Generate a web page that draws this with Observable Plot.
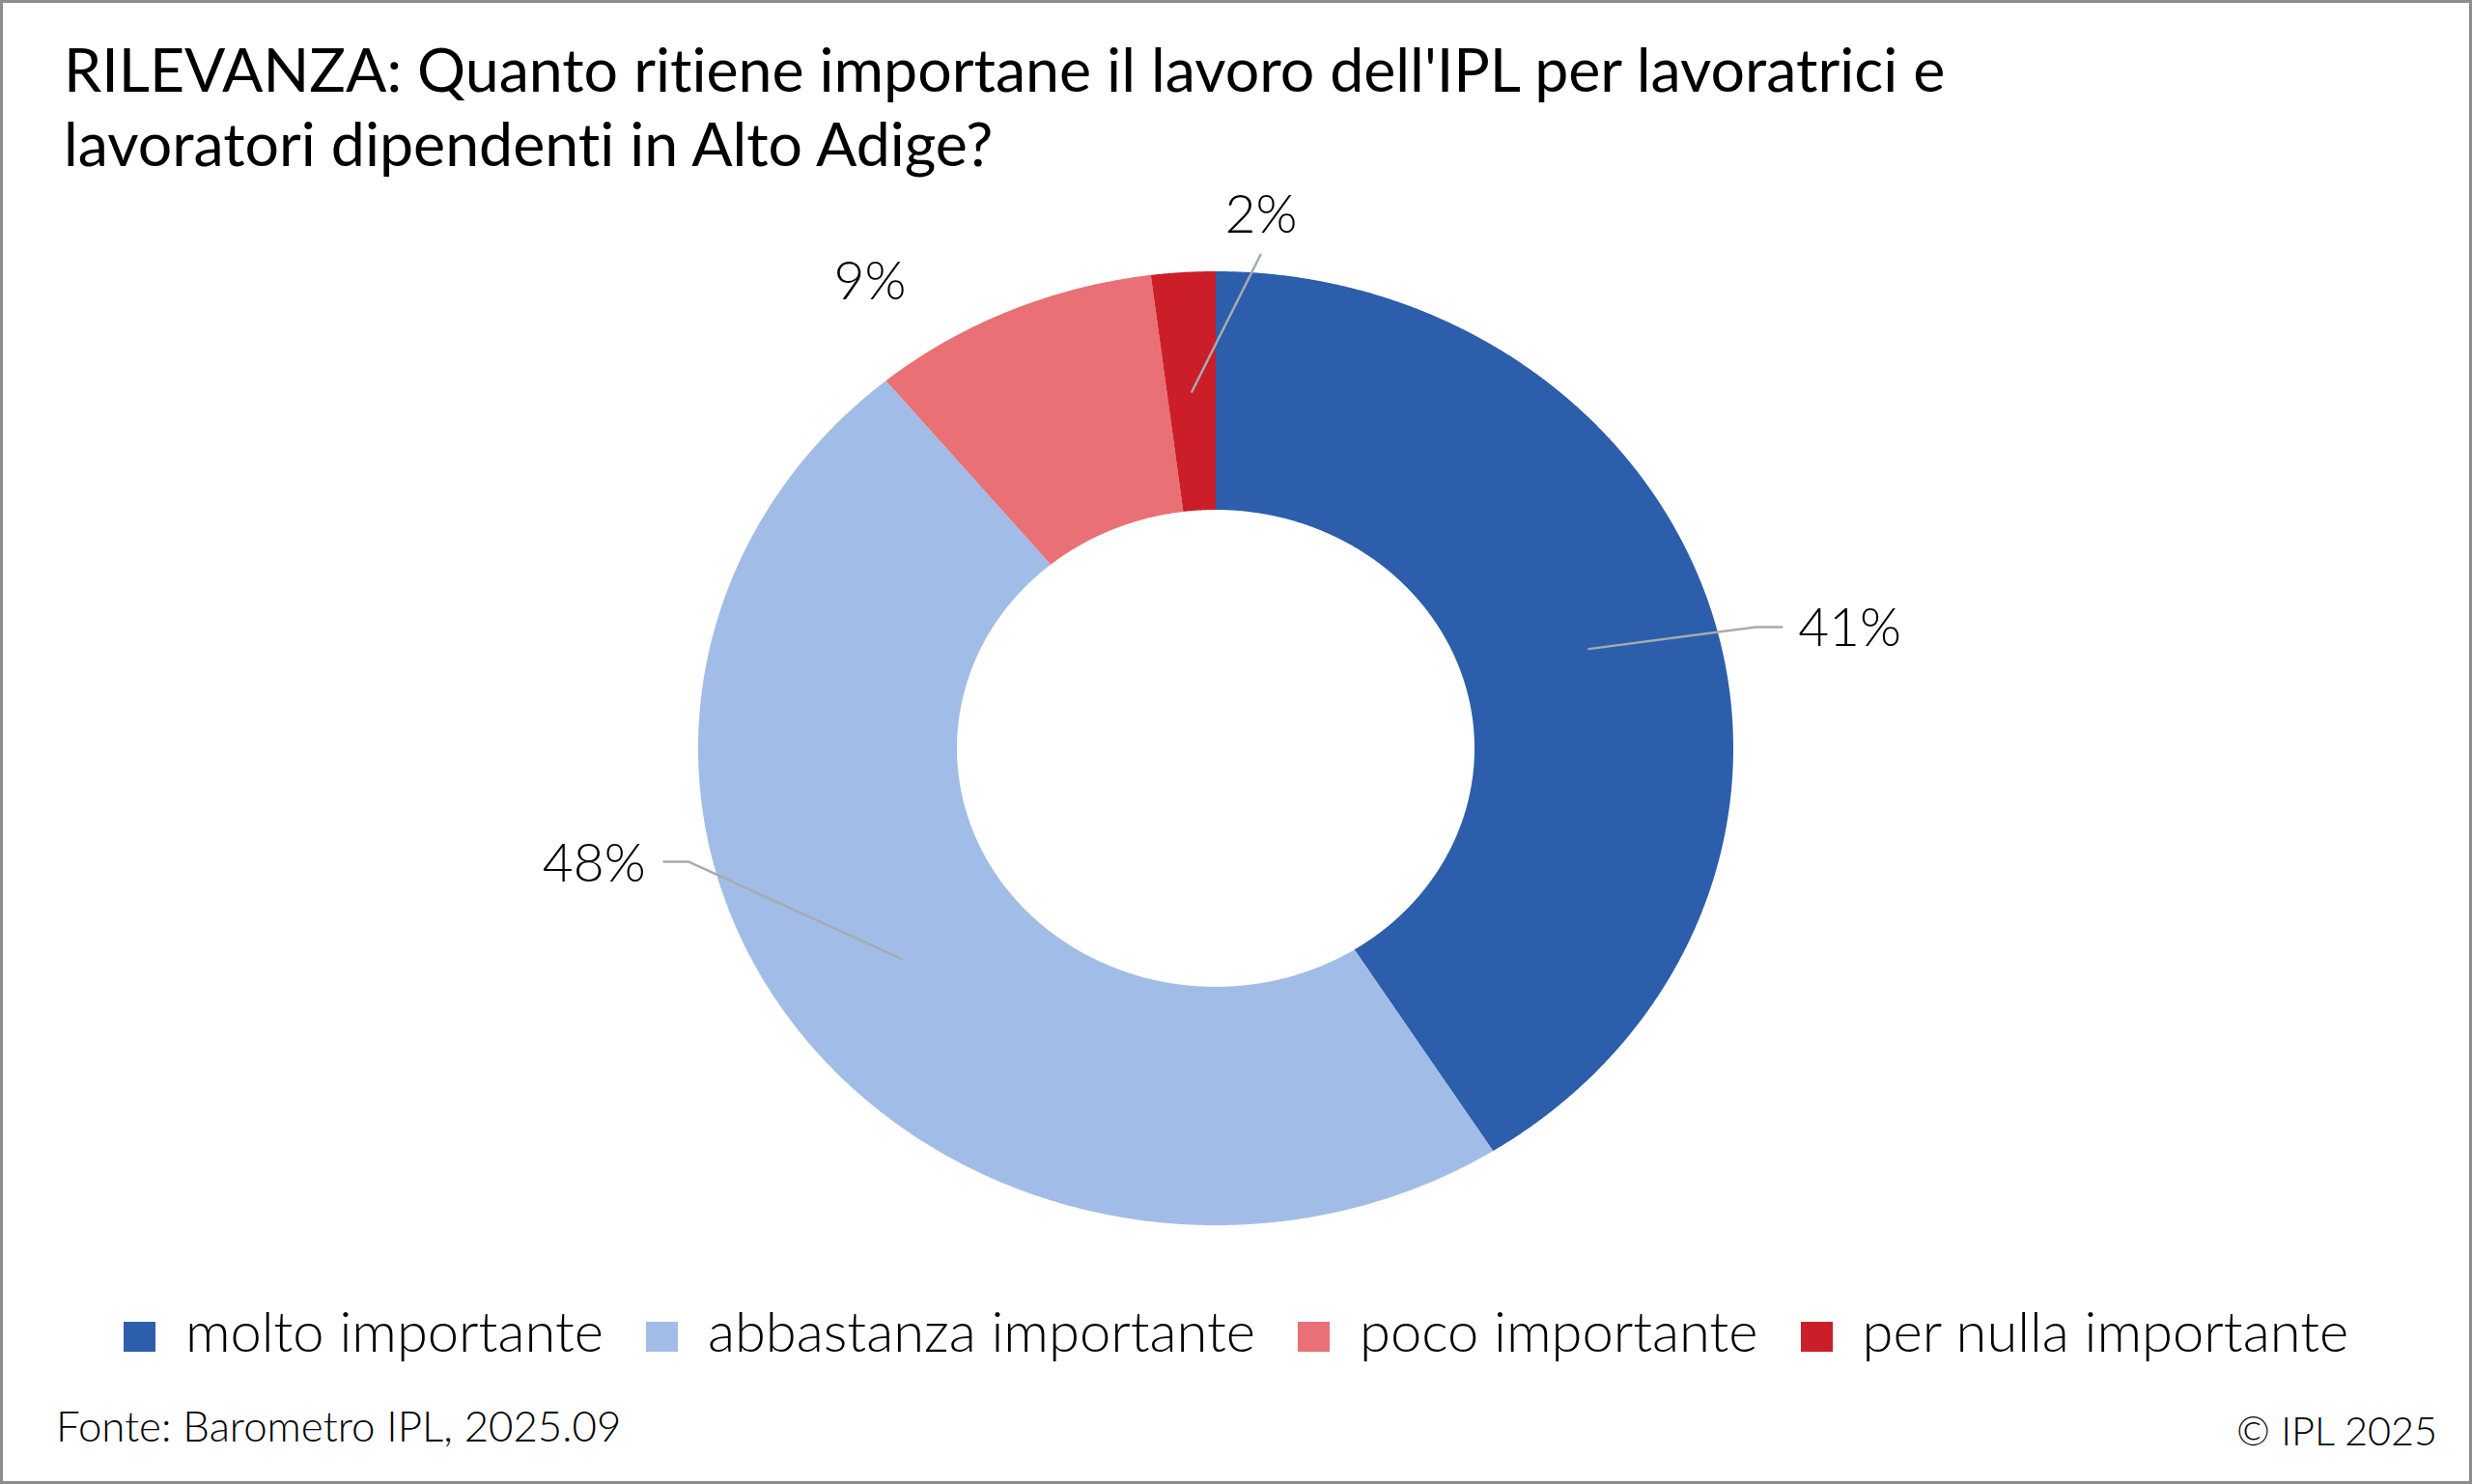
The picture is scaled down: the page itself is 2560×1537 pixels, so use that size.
<!DOCTYPE html>
<html>
<head>
<meta charset="utf-8">
<script src="https://cdn.jsdelivr.net/npm/d3@7"></script>
<script src="https://cdn.jsdelivr.net/npm/@observablehq/plot@0.6"></script>
<style>
  html, body { margin: 0; padding: 0; background: #fff; }
  #frame { position: relative; width: 2560px; height: 1537px; overflow: hidden;
           outline: 3px solid #8c8c8c; outline-offset: -3px; background: #fff; color: #000; }
  #frame, #frame * { font-feature-settings: "liga" 0, "clig" 0, "calt" 0, "dlig" 0, "rlig" 0 !important;
                     font-variant-ligatures: none !important; }
  .txt { position: absolute; white-space: nowrap; margin: 0; }
  #chart { position: absolute; left: 0; top: 200px; }
  #legend { position: absolute; left: 0; width: 2560px; display: flex; justify-content: center; white-space: nowrap; }
  .item { display: inline-block; margin: 0 22px; }
  .sw { display: inline-block; vertical-align: baseline; }
</style>
</head>
<body>
<div id="frame">
  <div id="title" class="txt"></div>
  <div id="chart"></div>
  <div id="legend"></div>
  <div id="source" class="txt"></div>
  <div id="copy" class="txt"></div>
</div>
<script>
// ---------- data ----------
const categories = ["molto importante", "abbastanza importante", "poco importante", "per nulla importante"];
const values = [41, 48, 9, 2];
const colors = ["#2c5eab", "#a1bde7", "#e97075", "#cc1e29"];
const valueLabels = ["41%", "48%", "9%", "2%"];
const titleLines = ["RILEVANZA: Quanto ritiene importane il lavoro dell'IPL per lavoratrici e",
                    "lavoratori dipendenti in Alto Adige?"];
const sourceText = "Fonte: Barometro IPL, 2025.09";
const copyText = "\u00A9 IPL 2025";

// ---------- layout (donut units: outer radius = 1) ----------
const innerRatio = 0.5;
const labelLayout = [
  { tx: 1.224,  ty: 0.251,  leader: [[1.043, 0.255], [1.093, 0.255]] },
  { tx: -1.202, ty: -0.242, leader: [[-1.019, -0.237], [-1.067, -0.237]] },
  { tx: -0.669, ty: 0.979,  leader: null },
  { tx: 0.0868, ty: 1.117,  leader: [[0.0858, 1.036]] }
];
const FAM = 'Lato, "Noto Sans", sans-serif';

// ---------- text metrics helpers ----------
const ctx = document.createElement("canvas").getContext("2d");
function ink(text, weight, size) {
  ctx.font = `${weight} ${size}px ${FAM}`;
  const m = ctx.measureText(text);
  return { left: m.actualBoundingBoxLeft, right: m.actualBoundingBoxRight,
           a: m.fontBoundingBoxAscent, d: m.fontBoundingBoxDescent };
}
function fit(text, weight, inkW) {
  const m = ink(text, weight, 100);
  return 100 * inkW / (m.left + m.right);
}
function setFont(el, weight, size) {
  el.style.fontFamily = FAM;
  el.style.fontWeight = weight;
  el.style.fontSize = size + "px";
}
function place(el, html, weight, size, inkLeft, baseline, lineH) {
  const m = ink(html.split("<br>")[0], weight, size);
  const lh = lineH || (m.a + m.d);
  el.innerHTML = html;
  setFont(el, weight, size);
  el.style.lineHeight = lh + "px";
  el.style.top = (baseline - ((lh - (m.a + m.d)) / 2 + m.a)) + "px";
  el.style.left = (inkLeft + m.left) + "px";
}

// title
const tSize = fit(titleLines[0], 400, 2016 - 71);
place(document.getElementById("title"), titleLines.join("<br>"), 400, tSize, 71, 95, 77);

// source
const sSize = fit(sourceText, 300, 640 - 62);
place(document.getElementById("source"), sourceText, 300, sSize, 62, 1493);

// copyright
const cSize = fit(copyText, 300, 2522 - 2318);
place(document.getElementById("copy"), copyText, 300, cSize, 2318, 1497);

// legend
const lSize = fit(categories[0], 300, 618 - 192);
{
  const m = ink(categories[0], 300, lSize);
  const lh = m.a + m.d;
  const leg = document.getElementById("legend");
  setFont(leg, 300, lSize);
  leg.style.lineHeight = lh + "px";
  leg.style.top = (1400 - m.a) + "px";
  categories.forEach((c, i) => {
    const it = document.createElement("span");
    it.className = "item";
    const sw = document.createElement("span");
    sw.className = "sw";
    sw.style.width = "33px"; sw.style.height = "31px";
    sw.style.background = colors[i];
    sw.style.marginRight = "31px";
    it.appendChild(sw);
    it.appendChild(document.createTextNode(c));
    leg.appendChild(it);
  });
}

// ---------- donut geometry from values ----------
const total = d3.sum(values);
const rad = d => d * Math.PI / 180;
let acc = 0;
const slices = categories.map((c, i) => {
  const a0 = acc / total * 360;
  acc += values[i];
  const a1 = acc / total * 360;
  return { cat: c, a0, a1, mid: (a0 + a1) / 2, label: valueLabels[i], i };
});
const ring = [];
for (const s of slices) {
  const n = Math.max(2, Math.ceil((s.a1 - s.a0) / 0.2));
  for (let k = 0; k <= n; k++) {
    const t = rad(s.a0 + (s.a1 - s.a0) * k / n);
    ring.push({ cat: s.cat, ox: Math.sin(t), oy: Math.cos(t),
                ix: innerRatio * Math.sin(t), iy: innerRatio * Math.cos(t) });
  }
}
const leaders = [];
const labelRows = [];
slices.forEach((s, i) => {
  const L = labelLayout[i];
  labelRows.push({ x: L.tx, y: L.ty, label: s.label });
  if (L.leader) {
    const rm = (1 + innerRatio) / 2, t = rad(s.mid);
    leaders.push({ id: i, x: rm * Math.sin(t), y: rm * Math.cos(t) });
    L.leader.forEach(p => leaders.push({ id: i, x: p[0], y: p[1] }));
  }
});

const labSize = fit("48%", 300, 666 - 563);

const svg = Plot.plot({
  width: 2560, height: 1120, margin: 0,
  x: { domain: [-1, 1], range: [723, 1795], axis: null },
  y: { domain: [-1, 1], range: [1069, 81], axis: null },
  color: { domain: categories, range: colors },
  style: { background: "transparent", fontFamily: FAM, overflow: "visible" },
  marks: [
    Plot.area(ring, { x1: "ox", y1: "oy", x2: "ix", y2: "iy", z: "cat", fill: "cat", curve: "linear" }),
    Plot.line(leaders, { x: "x", y: "y", z: "id", stroke: "#a7abb0", strokeWidth: 2.5, curve: "linear" }),
    Plot.text(labelRows, { x: "x", y: "y", text: "label", fontSize: labSize, fontWeight: 300,
                           fill: "#000", textAnchor: "middle", lineAnchor: "middle", fontFamily: FAM })
  ]
});
document.getElementById("chart").appendChild(svg);
</script>
</body>
</html>
